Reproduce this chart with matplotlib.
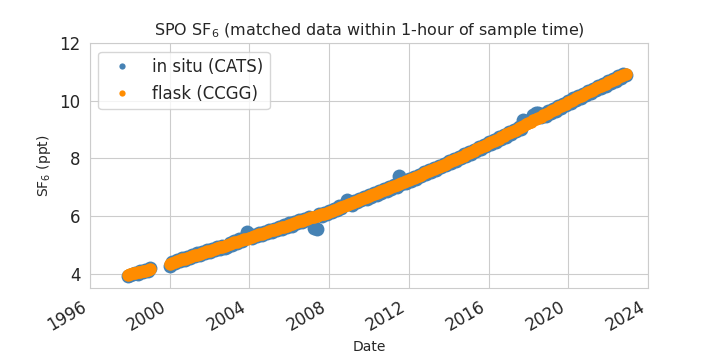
import numpy as np
import pandas as pd
import matplotlib
matplotlib.use('Agg')
import matplotlib.pyplot as plt
import matplotlib.dates as mdates
from matplotlib.lines import Line2D
import seaborn as sns

sns.set_style('whitegrid')
plt.rcParams['xtick.labelsize'] = 12
plt.rcParams['ytick.labelsize'] = 12
plt.rcParams['legend.fontsize'] = 12

# matched sample times (decimal year), shared by both records
sample_years = [
    1997.90, 1998.02, 1998.15, 1998.28, 1998.40, 1998.52, 1998.65, 1998.78, 1998.90, 1999.02,
    2000.00, 2000.12, 2000.25, 2000.38, 2000.50, 2000.62, 2000.75, 2000.88,
    2001.00, 2001.12, 2001.25, 2001.38, 2001.50, 2001.62, 2001.75, 2001.88,
    2002.00, 2002.12, 2002.25, 2002.38, 2002.50, 2002.62, 2002.75, 2002.88,
    2003.00, 2003.12, 2003.25, 2003.38, 2003.50, 2003.62, 2003.75, 2003.88,
    2004.00, 2004.12, 2004.25, 2004.38, 2004.50, 2004.62, 2004.75, 2004.88,
    2005.00, 2005.12, 2005.25, 2005.38, 2005.50, 2005.62, 2005.75, 2005.88,
    2006.00, 2006.12, 2006.25, 2006.38, 2006.50, 2006.62, 2006.75, 2006.88,
    2007.00, 2007.12, 2007.25, 2007.38, 2007.50, 2007.62, 2007.75, 2007.88,
    2008.00, 2008.12, 2008.25, 2008.38, 2008.50, 2008.62, 2008.75, 2008.88,
    2009.00, 2009.12, 2009.25, 2009.38, 2009.50, 2009.62, 2009.75, 2009.88,
    2010.00, 2010.12, 2010.25, 2010.38, 2010.50, 2010.62, 2010.75, 2010.88,
    2011.00, 2011.12, 2011.25, 2011.38, 2011.50, 2011.62, 2011.75, 2011.88,
    2012.00, 2012.12, 2012.25, 2012.38, 2012.50, 2012.62, 2012.75, 2012.88,
    2013.00, 2013.12, 2013.25, 2013.38, 2013.50, 2013.62, 2013.75, 2013.88,
    2014.00, 2014.12, 2014.25, 2014.38, 2014.50, 2014.62, 2014.75, 2014.88,
    2015.00, 2015.12, 2015.25, 2015.38, 2015.50, 2015.62, 2015.75, 2015.88,
    2016.00, 2016.12, 2016.25, 2016.38, 2016.50, 2016.62, 2016.75, 2016.88,
    2017.00, 2017.12, 2017.25, 2017.38, 2017.50, 2017.62, 2017.75, 2017.88,
    2018.00, 2018.12, 2018.25, 2018.38, 2018.50, 2018.62, 2018.75, 2018.88,
    2019.00, 2019.12, 2019.25, 2019.38, 2019.50, 2019.62, 2019.75, 2019.88,
    2020.00, 2020.12, 2020.25, 2020.38, 2020.50, 2020.62, 2020.75, 2020.88,
    2021.00, 2021.12, 2021.25, 2021.38, 2021.50, 2021.62, 2021.75, 2021.88,
    2022.00, 2022.12, 2022.25, 2022.38, 2022.50, 2022.62, 2022.75, 2022.88,
]

# flask (CCGG), ppt
flask_ppt = [
    3.96, 3.98, 4.01, 4.02, 4.04, 4.06, 4.08, 4.10, 4.12, 4.15,
    4.35, 4.38, 4.40, 4.44, 4.46, 4.49, 4.51, 4.55,
    4.57, 4.61, 4.63, 4.66, 4.68, 4.72, 4.74, 4.77,
    4.80, 4.82, 4.86, 4.88, 4.91, 4.93, 4.97, 4.99,
    5.02, 5.05, 5.08, 5.10, 5.14, 5.16, 5.19, 5.21,
    5.25, 5.27, 5.31, 5.33, 5.36, 5.38, 5.42, 5.44,
    5.47, 5.50, 5.52, 5.56, 5.58, 5.61, 5.63, 5.67,
    5.70, 5.72, 5.76, 5.78, 5.81, 5.83, 5.87, 5.89,
    5.92, 5.95, 5.97, 6.01, 6.03, 6.06, 6.08, 6.12,
    6.15, 6.19, 6.22, 6.25, 6.29, 6.32, 6.35, 6.39,
    6.42, 6.45, 6.49, 6.52, 6.56, 6.59, 6.62, 6.66,
    6.69, 6.73, 6.76, 6.79, 6.83, 6.86, 6.89, 6.93,
    6.96, 7.00, 7.03, 7.07, 7.11, 7.14, 7.18, 7.21,
    7.25, 7.29, 7.33, 7.37, 7.40, 7.44, 7.48, 7.52,
    7.55, 7.59, 7.63, 7.67, 7.71, 7.74, 7.78, 7.82,
    7.86, 7.90, 7.94, 7.98, 8.02, 8.06, 8.10, 8.14,
    8.18, 8.22, 8.26, 8.31, 8.35, 8.39, 8.43, 8.48,
    8.52, 8.56, 8.61, 8.65, 8.69, 8.74, 8.78, 8.83,
    8.87, 8.91, 8.96, 9.00, 9.05, 9.09, 9.14, 9.18,
    9.23, 9.27, 9.32, 9.36, 9.41, 9.45, 9.50, 9.54,
    9.59, 9.63, 9.68, 9.72, 9.77, 9.81, 9.86, 9.90,
    9.95, 9.99, 10.04, 10.08, 10.13, 10.17, 10.21, 10.26,
    10.30, 10.34, 10.38, 10.43, 10.47, 10.51, 10.55, 10.60,
    10.64, 10.68, 10.72, 10.77, 10.81, 10.85, 10.89, 10.93,
]

# in situ (CATS), ppt, within 1 hour of each flask
cats_ppt = [
    3.90, 3.95, 3.98, 4.03, 4.00, 4.09, 4.05, 4.13, 4.09, 4.18,
    4.28, 4.40, 4.37, 4.48, 4.43, 4.53, 4.47, 4.59,
    4.53, 4.65, 4.60, 4.70, 4.64, 4.76, 4.70, 4.81,
    4.76, 4.86, 4.83, 4.92, 4.86, 4.97, 4.88, 4.92,
    5.06, 5.01, 5.12, 5.07, 5.19, 5.13, 5.23, 5.45,
    5.33, 5.22, 5.35, 5.29, 5.40, 5.34, 5.46, 5.40,
    5.51, 5.45, 5.56, 5.50, 5.62, 5.55, 5.68, 5.62,
    5.75, 5.67, 5.80, 5.74, 5.85, 5.79, 5.91, 5.85,
    5.96, 5.90, 5.60, 5.55, 6.07, 6.01, 6.12, 6.07,
    6.19, 6.13, 6.26, 6.20, 6.33, 6.27, 6.38, 6.55,
    6.46, 6.39, 6.53, 6.47, 6.60, 6.54, 6.66, 6.60,
    6.73, 6.66, 6.80, 6.74, 6.87, 6.80, 6.93, 6.87,
    7.00, 6.93, 7.07, 7.02, 7.38, 7.10, 7.22, 7.16,
    7.29, 7.22, 7.37, 7.30, 7.44, 7.38, 7.52, 7.46,
    7.59, 7.52, 7.67, 7.58, 7.75, 7.69, 7.82, 7.76,
    7.90, 7.83, 7.98, 7.92, 8.06, 8.00, 8.14, 8.08,
    8.22, 8.15, 8.30, 8.25, 8.39, 8.33, 8.47, 8.42,
    8.56, 8.49, 8.65, 8.58, 8.73, 8.67, 8.82, 8.76,
    8.91, 8.84, 9.00, 8.94, 9.09, 9.03, 9.35, 9.30,
    9.27, 9.33, 9.52, 9.56, 9.58, 9.43, 9.54, 9.48,
    9.63, 9.56, 9.72, 9.66, 9.81, 9.74, 9.90, 9.84,
    9.99, 9.93, 10.08, 10.02, 10.17, 10.11, 10.25, 10.19,
    10.34, 10.27, 10.42, 10.36, 10.51, 10.45, 10.59, 10.53,
    10.68, 10.62, 10.76, 10.70, 10.85, 10.79, 10.93, 10.90,
]


def to_dates(years):
    # decimal year -> timestamps
    return [pd.Timestamp(int(y), 1, 1) + pd.Timedelta(days=(y % 1) * 365.25) for y in years]


dates = to_dates(sample_years)

fig, ax = plt.subplots(figsize=(7.2, 3.6), dpi=100)
ax.plot(dates, cats_ppt, 'o', color='steelblue', ms=10, mew=0)
ax.plot(dates, flask_ppt, 'o', color='darkorange', ms=9, mew=0)

handles = [Line2D([], [], ls='none', marker='o', color='steelblue', ms=4.5, mew=0),
           Line2D([], [], ls='none', marker='o', color='darkorange', ms=4.5, mew=0)]
ax.legend(handles, ['in situ (CATS)', 'flask (CCGG)'], loc='upper left')

ax.set_xlim(pd.Timestamp('1996-01-01'), pd.Timestamp('2024-01-01'))
ax.set_ylim(3.5, 12)
ax.set_yticks([4, 6, 8, 10, 12])
ax.xaxis.set_major_locator(mdates.YearLocator(4))
ax.xaxis.set_major_formatter(mdates.DateFormatter('%Y'))
ax.set_xlabel('Date')
ax.set_ylabel('SF$_6$ (ppt)')
ax.set_title('SPO SF$_6$ (matched data within 1-hour of sample time)', fontsize=11.5)
fig.autofmt_xdate()

plt.savefig('out.png', dpi=100)
